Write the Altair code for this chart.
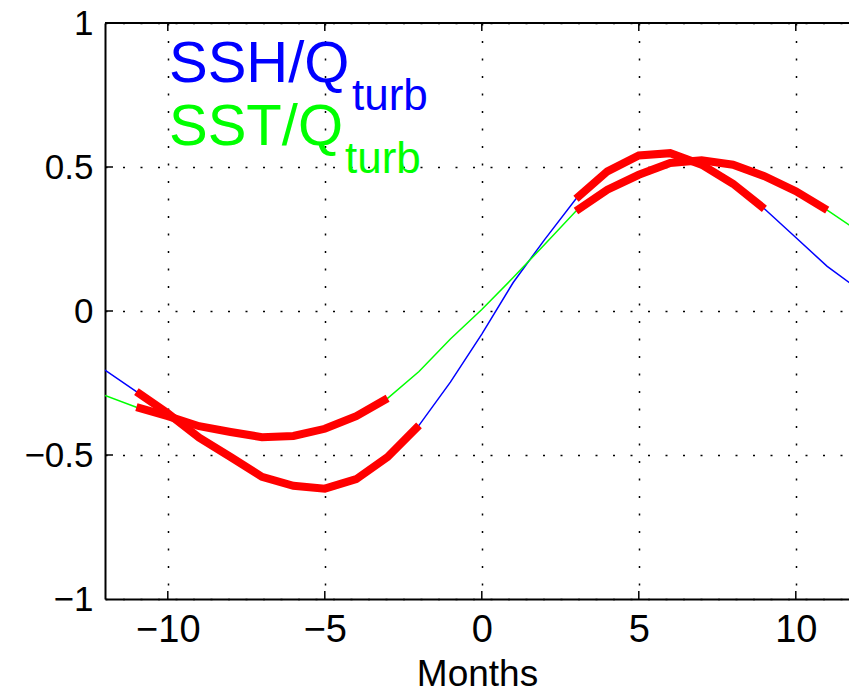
import altair as alt
import pandas as pd

months = list(range(-12, 13))
ssh = [-0.205, -0.28, -0.355, -0.44, -0.507, -0.576, -0.607, -0.617, -0.584, -0.507,
       -0.397, -0.247, -0.08, 0.099, 0.248, 0.39, 0.485, 0.54, 0.548, 0.508,
       0.442, 0.355, 0.255, 0.155, 0.075]
sst = [-0.293, -0.334, -0.365, -0.40, -0.42, -0.438, -0.434, -0.409, -0.365, -0.303,
       -0.21, -0.097, 0.005, 0.116, 0.231, 0.347, 0.421, 0.473, 0.514, 0.523,
       0.508, 0.468, 0.416, 0.35, 0.277]
ssh_sig = [(-11, -2), (3, 9)]
sst_sig = [(-11, -3), (3, 11)]
xticks = [-10, -5, 0, 5, 10]
yticks = [-1, -0.5, 0, 0.5, 1]

W, H = 744, 576
XMAX = -12 + W / 31.4
FONT = "Liberation Sans"

base_df = pd.DataFrame({
    "month": months * 2,
    "value": ssh + sst,
    "series": ["SSH"] * len(months) + ["SST"] * len(months),
})

rows = []
for name, vals, segs in [("SSH", ssh, ssh_sig), ("SST", sst, sst_sig)]:
    for i, (a, b) in enumerate(segs):
        for m, v in zip(months, vals):
            if a <= m <= b:
                rows.append({"month": m, "value": v, "seg": f"{name}{i}"})
sig_df = pd.DataFrame(rows)

xscale = alt.Scale(domain=[-12, XMAX], nice=False, zero=False)
yscale = alt.Scale(domain=[-1, 1], nice=False, zero=False)

xaxis = alt.Axis(values=xticks, format="~g", tickSize=0, labelFont=FONT, labelFontSize=38,
                 labelColor="black", labelPadding=12, title="Months", titleFont=FONT,
                 titleFontSize=37, titleFontWeight="normal", titleColor="black",
                 titlePadding=7, grid=True, gridColor="black", gridDash=[2, 15.5],
                 gridWidth=1.5, gridOpacity=1, domainColor="black", domainWidth=2)
yaxis = alt.Axis(values=yticks, format="~g", tickSize=0, labelFont=FONT, labelFontSize=35,
                 labelColor="black", labelPadding=12, title=None, grid=True,
                 gridColor="black", gridDash=[2, 15.5], gridWidth=1.5, gridOpacity=1,
                 domainColor="black", domainWidth=2)

lines = alt.Chart(base_df).mark_line(strokeWidth=1.5, clip=True).encode(
    x=alt.X("month:Q", scale=xscale, axis=xaxis),
    y=alt.Y("value:Q", scale=yscale, axis=yaxis),
    color=alt.Color("series:N", scale=alt.Scale(domain=["SSH", "SST"],
                                                 range=["#0000ff", "#00ff00"]), legend=None),
)

red = alt.Chart(sig_df).mark_line(strokeWidth=8, color="#ff0000", strokeCap="butt",
                                  strokeJoin="miter", clip=True).encode(
    x=alt.X("month:Q", scale=xscale),
    y=alt.Y("value:Q", scale=yscale),
    detail="seg:N",
)

xt = pd.DataFrame({"t": xticks})
yt = pd.DataFrame({"t": yticks[1:-1]})
bot_ticks = alt.Chart(xt).mark_rule(color="black", strokeWidth=1.5).encode(
    x=alt.X("t:Q", scale=xscale), y=alt.value(H), y2=alt.value(H - 8))
top_ticks = alt.Chart(xt).mark_rule(color="black", strokeWidth=1.5).encode(
    x=alt.X("t:Q", scale=xscale), y=alt.value(0), y2=alt.value(8))
left_ticks = alt.Chart(yt).mark_rule(color="black", strokeWidth=1.5).encode(
    y=alt.Y("t:Q", scale=yscale), x=alt.value(0), x2=alt.value(8))
top_border = alt.Chart(pd.DataFrame({"a": [0]})).mark_rule(color="black", strokeWidth=2).encode(
    x=alt.value(0), x2=alt.value(W), y=alt.value(0))

labels_df = pd.DataFrame({
    "text": ["SSH/Q", "turb", "SST/Q", "turb"],
    "color": ["#0000ff", "#0000ff", "#00ff00", "#00ff00"],
})
def label(i, x, y, size):
    d = labels_df.iloc[[i]]
    return alt.Chart(d).mark_text(align="left", baseline="alphabetic", font=FONT,
                                  fontSize=size, color=d["color"].iloc[0]).encode(
        text="text:N", x=alt.value(x), y=alt.value(y))

texts = [label(0, 64, 59, 58), label(1, 247, 87, 44), label(2, 64, 122, 58), label(3, 240, 150, 44)]

chart = alt.layer(lines, red, bot_ticks, top_ticks, left_ticks, top_border, *texts).properties(
    width=W, height=H,
    autosize=alt.AutoSizeParams(type="none"),
    padding={"left": 97, "top": 15, "right": 0, "bottom": 98},
).configure_view(stroke=None)

chart.save("out.html", embed_options={"renderer": "svg", "actions": False})
